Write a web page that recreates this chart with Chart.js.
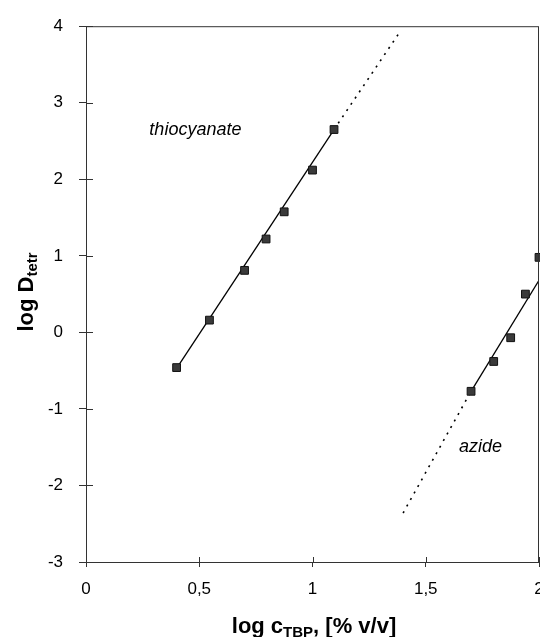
<!DOCTYPE html>
<html>
<head>
<meta charset="utf-8">
<script src="https://cdn.jsdelivr.net/npm/chart.js@4.4.1/dist/chart.umd.min.js"></script>
<style>
  html, body { margin: 0; padding: 0; background: #fff; overflow: hidden; }
</style>
</head>
<body>
<canvas id="DistChart" width="540" height="637"></canvas>
<script>
// log D(tetr) vs log c(TBP)
var thioX = [0.40, 0.545, 0.70, 0.795, 0.875, 1.0, 1.095];
var thioY = [-0.46, 0.16, 0.81, 1.22, 1.575, 2.12, 2.65];
var azideX = [1.70, 1.80, 1.875, 1.94, 2.0];
var azideY = [-0.77, -0.38, -0.07, 0.50, 0.98];

// fitted lines (solid) and their extrapolation (dotted)
var thioFitX = [0.40, 1.095];
var thioFitY = [-0.47, 2.65];
var thioExtX = [1.095, 1.38];
var thioExtY = [2.65, 3.90];
var azideFitX = [1.70, 2.0];
var azideFitY = [-0.77, 0.68];
var azideExtX = [1.40, 1.70];
var azideExtY = [-2.36, -0.77];

var xTicks = [0, 0.5, 1, 1.5, 2];
var yTicks = [-3, -2, -1, 0, 1, 2, 3, 4];

// curve names written in the plot
var notes = [
  { text: 'thiocyanate', x: 0.483, y: 2.64 },
  { text: 'azide', x: 1.742, y: -1.50 }
];

var FONT = '"Liberation Sans", Arial, sans-serif';

function pts(xs, ys) {
  return xs.map(function (x, i) { return { x: x, y: ys[i] }; });
}
function comma(v) { return String(v).replace('.', ','); }

// box, inner tick marks, titles with subscripts, curve names
var extras = {
  id: 'extras',
  afterDraw: function (chart) {
    var c = chart.ctx, a = chart.chartArea;
    var xs = chart.scales.x, ys = chart.scales.y;
    c.save();
    c.strokeStyle = '#333';
    c.lineWidth = 1;
    c.strokeRect(a.left + 0.5, a.top + 0.5, a.right - a.left - 1, a.bottom - a.top);
    c.beginPath();
    xTicks.forEach(function (v) {
      var p = Math.round(xs.getPixelForValue(v)) + 0.5;
      c.moveTo(p, a.bottom); c.lineTo(p, a.bottom - 5);
    });
    yTicks.forEach(function (v) {
      var p = Math.round(ys.getPixelForValue(v)) + 0.5;
      c.moveTo(a.left, p); c.lineTo(a.left + 7, p);
    });
    c.stroke();

    c.fillStyle = '#000';
    c.textBaseline = 'alphabetic';
    function runs(parts, x0, y0) {
      var w = 0;
      parts.forEach(function (p) { c.font = 'bold ' + p[1] + 'px ' + FONT; w += c.measureText(p[0]).width; });
      var x = x0 - w / 2;
      parts.forEach(function (p) {
        c.font = 'bold ' + p[1] + 'px ' + FONT;
        c.fillText(p[0], x, y0 + (p[2] || 0));
        x += c.measureText(p[0]).width;
      });
    }
    runs([['log c', 22], ['TBP', 15, 4], [', [% v/v]', 22]], 314, 633);

    c.save();
    c.translate(33, 292);
    c.rotate(-Math.PI / 2);
    runs([['log D', 22], ['tetr', 15, 4]], 0, 0);
    c.restore();

    c.font = 'italic 18px ' + FONT;
    c.textAlign = 'center';
    c.textBaseline = 'middle';
    notes.forEach(function (n) {
      c.fillText(n.text, xs.getPixelForValue(n.x), ys.getPixelForValue(n.y));
    });
    c.restore();
  }
};

var ctx = document.getElementById('DistChart').getContext('2d');
var lineStyle = { showLine: true, pointRadius: 0, borderColor: '#000', borderWidth: 1.3, fill: false, order: 1 };
var dotStyle = { showLine: true, pointRadius: 0, borderColor: '#000', borderWidth: 1.6, borderDash: [2, 5.5], fill: false, order: 1 };
var markStyle = { pointStyle: 'rect', pointRadius: 5.5, backgroundColor: '#3a3a3a', borderColor: '#111', borderWidth: 1, showLine: false, order: 0, clip: false };

var myChart = new Chart(ctx, {
  type: 'scatter',
  data: {
    datasets: [
      Object.assign({ label: 'thiocyanate fit', data: pts(thioFitX, thioFitY) }, lineStyle),
      Object.assign({ label: 'thiocyanate extrapolation', data: pts(thioExtX, thioExtY) }, dotStyle),
      Object.assign({ label: 'azide fit', data: pts(azideFitX, azideFitY) }, lineStyle),
      Object.assign({ label: 'azide extrapolation', data: pts(azideExtX, azideExtY) }, dotStyle),
      Object.assign({ label: 'thiocyanate', data: pts(thioX, thioY) }, markStyle),
      Object.assign({ label: 'azide', data: pts(azideX, azideY) }, markStyle)
    ]
  },
  options: {
    responsive: false,
    animation: false,
    layout: { autoPadding: false, padding: { top: 18, right: 1, bottom: 0, left: 0 } },
    plugins: { legend: { display: false }, tooltip: { enabled: false } },
    scales: {
      x: {
        type: 'linear', min: 0, max: 2,
        afterBuildTicks: function (s) { s.ticks = xTicks.map(function (v) { return { value: v }; }); },
        afterFit: function (s) { s.height = 75; s.paddingLeft = 0; s.paddingRight = 0; },
        grid: { drawOnChartArea: false, tickLength: 5, color: '#333' },
        border: { color: '#333' },
        ticks: { color: '#000', padding: 12, maxRotation: 0, autoSkip: false, font: { family: FONT, size: 17 }, callback: comma }
      },
      y: {
        type: 'linear', min: -3, max: 4,
        afterBuildTicks: function (s) { s.ticks = yTicks.map(function (v) { return { value: v }; }); },
        afterFit: function (s) { s.width = 86; },
        grid: { drawOnChartArea: false, tickLength: 7, color: '#333' },
        border: { color: '#333' },
        ticks: { color: '#000', padding: 16, font: { family: FONT, size: 17 }, callback: comma }
      }
    }
  },
  plugins: [extras]
});
</script>
</body>
</html>
